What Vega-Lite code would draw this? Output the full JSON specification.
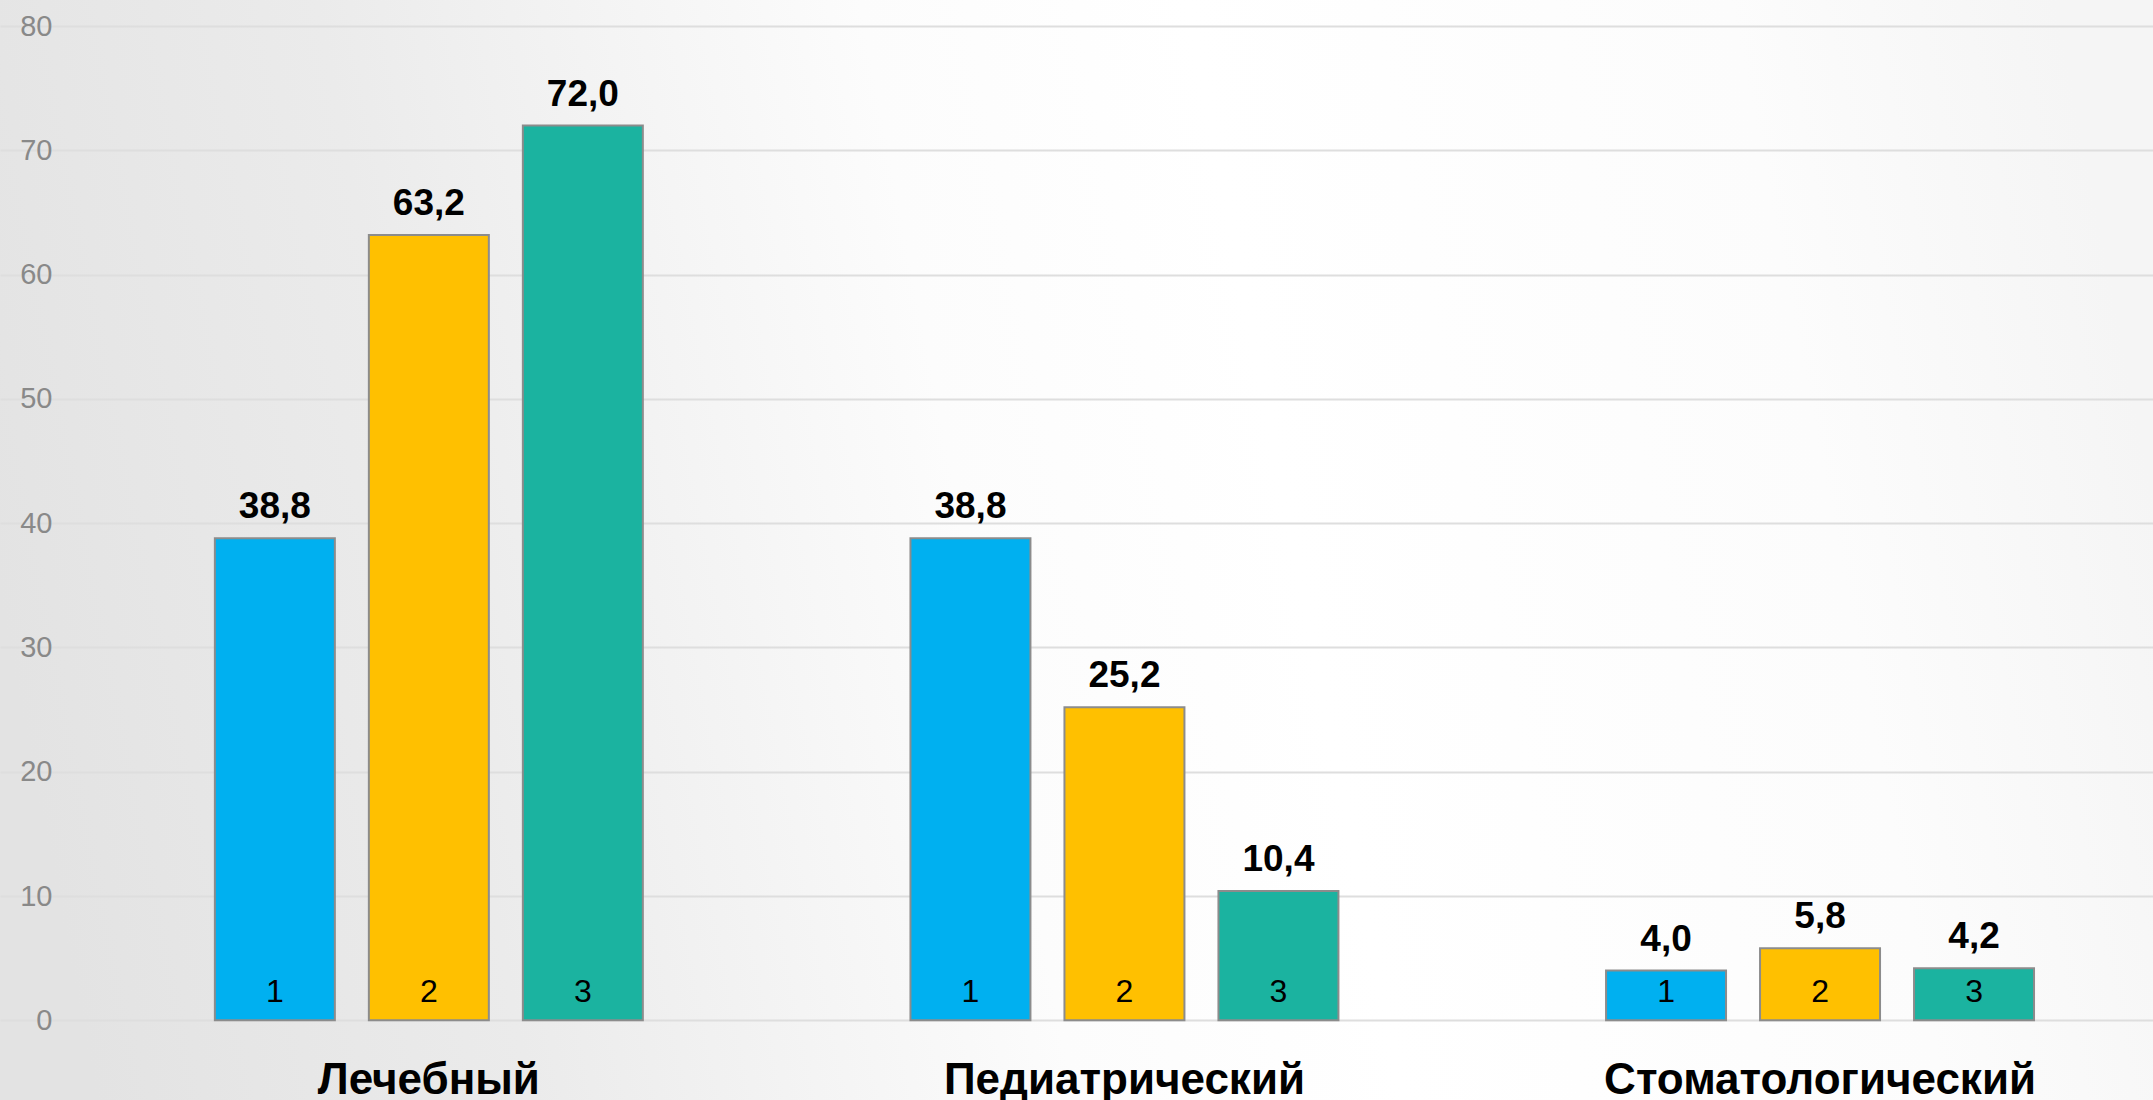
{
  "$schema": "https://vega.github.io/schema/vega-lite/v6.json",
  "width": 2153,
  "height": 1100,
  "autosize": "none",
  "padding": 0,
  "background": "#f0f0f0",
  "view": {
    "stroke": null,
    "fill": {
      "gradient": "linear",
      "x1": 0, "y1": 0.55, "x2": 1, "y2": 0.45,
      "stops": [
        {"offset": 0, "color": "#e3e3e3"},
        {"offset": 0.2, "color": "#ebebeb"},
        {"offset": 0.45, "color": "#fcfcfc"},
        {"offset": 0.6, "color": "#ffffff"},
        {"offset": 0.85, "color": "#fcfcfc"},
        {"offset": 1, "color": "#f5f5f5"}
      ]
    }
  },
  "config": {
    "locale": {"number": {"decimal": ",", "thousands": " ", "grouping": [3], "currency": ["", ""]}},
    "axis": {"labelFont": "Liberation Sans"}
  },
  "data": {
    "values": [
      {"faculty": "Лечебный", "group": "1", "value": 38.8},
      {"faculty": "Лечебный", "group": "2", "value": 63.2},
      {"faculty": "Лечебный", "group": "3", "value": 72.0},
      {"faculty": "Педиатрический", "group": "1", "value": 38.8},
      {"faculty": "Педиатрический", "group": "2", "value": 25.2},
      {"faculty": "Педиатрический", "group": "3", "value": 10.4},
      {"faculty": "Стоматологический", "group": "1", "value": 4.0},
      {"faculty": "Стоматологический", "group": "2", "value": 5.8},
      {"faculty": "Стоматологический", "group": "3", "value": 4.2}
    ]
  },
  "encoding": {
    "x": {
      "field": "faculty",
      "type": "nominal",
      "sort": ["Лечебный", "Педиатрический", "Стоматологический"],
      "scale": {"paddingInner": 0.2, "paddingOuter": 0.1476, "align": 0.7335, "round": false},
      "axis": {
        "title": null,
        "orient": "bottom",
        "offset": -79.7,
        "domain": false,
        "ticks": false,
        "labelAngle": 0,
        "labelLimit": 0,
        "labelBaseline": "alphabetic",
        "labelPadding": 73,
        "labelFont": "Liberation Sans",
        "labelFontWeight": "bold",
        "labelFontSize": 44,
        "labelColor": "#000000"
      }
    },
    "xOffset": {
      "field": "group",
      "type": "nominal",
      "scale": {"paddingInner": 0.2208, "paddingOuter": 0.4172, "round": false}
    }
  },
  "layer": [
    {
      "mark": {"type": "bar", "stroke": "#8c8c8c", "strokeWidth": 2},
      "encoding": {
        "y": {
          "field": "value",
          "type": "quantitative",
          "scale": {"domain": [-6.41, 82.1], "nice": false, "zero": false},
          "axis": {
            "title": null,
            "orient": "left",
            "offset": -81,
            "values": [0, 10, 20, 30, 40, 50, 60, 70, 80],
            "domain": false,
            "ticks": false,
            "grid": true,
            "gridColor": "#dedede",
            "gridWidth": 2,
            "labelPadding": 29,
            "labelFont": "Liberation Sans",
            "labelFontSize": 29,
            "labelColor": "#898989"
          }
        },
        "y2": {"datum": 0},
        "color": {
          "field": "group",
          "type": "nominal",
          "scale": {"domain": ["1", "2", "3"], "range": ["#00b0f0", "#ffc000", "#1bb3a0"]},
          "legend": null
        }
      }
    },
    {
      "mark": {"type": "text", "baseline": "alphabetic", "dy": -20, "font": "Liberation Sans", "fontWeight": "bold", "fontSize": 37, "color": "#000000"},
      "encoding": {
        "y": {"field": "value", "type": "quantitative"},
        "text": {"field": "value", "type": "quantitative", "format": ".1f"}
      }
    },
    {
      "mark": {"type": "text", "baseline": "alphabetic", "dy": -18, "font": "Liberation Sans", "fontSize": 32, "color": "#000000"},
      "encoding": {
        "y": {"datum": 0},
        "text": {"field": "group", "type": "nominal"}
      }
    }
  ]
}
